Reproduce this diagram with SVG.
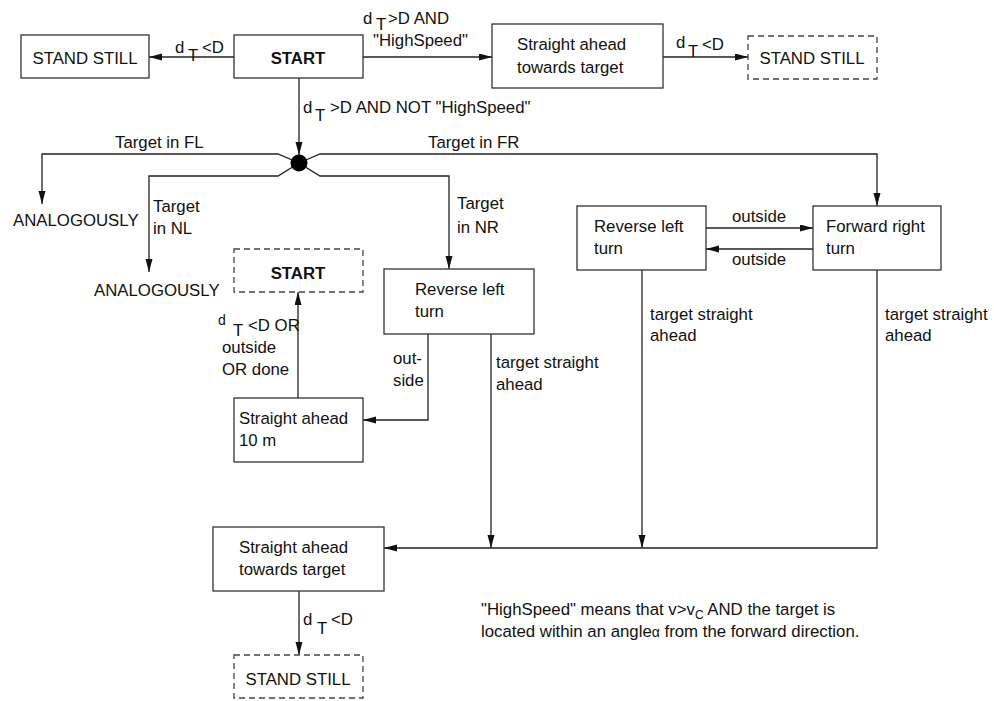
<svg xmlns="http://www.w3.org/2000/svg" width="994" height="701" viewBox="0 0 994 701">
  <style>
    text { font-family: "Liberation Sans", Arial, sans-serif; font-size: 16.8px; fill: #111; }
    .b { font-weight: bold; }
    .box { fill: #fff; stroke: #333; stroke-width: 1.3; }
    .dash { fill: #fff; stroke: #444; stroke-width: 1.3; stroke-dasharray: 6 4; }
    .ln { fill: none; stroke: #222; stroke-width: 1.3; }
    .arr { marker-end: url(#ah); }
  </style>
  <defs>
    <marker id="ah" markerUnits="userSpaceOnUse" markerWidth="14" markerHeight="8" refX="13" refY="3.5" orient="auto">
      <path d="M0,0 L13,3.5 L0,7 z" fill="#111"/>
    </marker>
  </defs>
  <rect width="994" height="701" fill="#fff"/>

  <!-- connectors -->
  <g id="connectors">
    <line class="ln arr" x1="234" y1="57" x2="149" y2="57"/>
    <line class="ln arr" x1="363" y1="57" x2="492" y2="57"/>
    <line class="ln arr" x1="663" y1="57" x2="748" y2="57"/>
    <line class="ln arr" x1="299" y1="78" x2="299" y2="155"/>
    <!-- junction branches -->
    <polyline class="ln arr" points="299,163 278,154 42,154 42,204"/>
    <polyline class="ln arr" points="299,163 278,176 149,176 149,272"/>
    <polyline class="ln arr" points="299,163 320,154 877,154 877,206"/>
    <polyline class="ln arr" points="299,163 320,176 449,176 449,269"/>
    <!-- NR branch -->
    <polyline class="ln arr" points="428,334 428,420 363,420"/>
    <line class="ln arr" x1="298" y1="398" x2="298" y2="292"/>
    <line class="ln arr" x1="491" y1="334" x2="491" y2="548"/>
    <!-- FR branch -->
    <line class="ln arr" x1="706" y1="228" x2="813" y2="228"/>
    <line class="ln arr" x1="813" y1="249" x2="706" y2="249"/>
    <line class="ln arr" x1="642" y1="270" x2="642" y2="548"/>
    <polyline class="ln arr" points="877,270 877,548 384,548"/>
    <line class="ln arr" x1="299" y1="591" x2="299" y2="655"/>
    <circle cx="299" cy="163" r="8.5" fill="#000"/>
  </g>

  <!-- connector labels -->
  <g id="labels">
    <text x="175" y="53">d</text><text x="188" y="61">T</text><text x="202" y="53">&lt;D</text>
    <text x="363" y="24">d</text><text x="376" y="30">T</text><text x="388" y="24">&gt;D AND</text>
    <text x="373" y="46">"HighSpeed"</text>
    <text x="676" y="48">d</text><text x="688" y="57">T</text><text x="702" y="50">&lt;D</text>
    <text x="303" y="113">d</text><text x="315" y="121">T</text><text x="330" y="113">&gt;D AND NOT "HighSpeed"</text>
    <text x="115" y="148">Target in FL</text>
    <text x="428" y="148">Target in FR</text>
    <text x="13" y="226">ANALOGOUSLY</text>
    <text x="153" y="212">Target</text>
    <text x="153" y="234">in NL</text>
    <text x="94" y="296">ANALOGOUSLY</text>
    <text x="457" y="209">Target</text>
    <text x="457" y="233">in NR</text>
    <text x="218" y="325" style="font-size:14px">d</text><text x="233" y="336">T</text><text x="248" y="331">&lt;D OR</text>
    <text x="222" y="353">outside</text>
    <text x="222" y="375">OR done</text>
    <text x="393" y="364">out-</text>
    <text x="393" y="386">side</text>
    <text x="496" y="368">target straight</text>
    <text x="496" y="390">ahead</text>
    <text x="732" y="222">outside</text>
    <text x="732" y="265">outside</text>
    <text x="650" y="320">target straight</text>
    <text x="650" y="341">ahead</text>
    <text x="885" y="320">target straight</text>
    <text x="885" y="341">ahead</text>
    <text x="303" y="625">d</text><text x="317" y="634">T</text><text x="331" y="625">&lt;D</text>
  </g>

  <!-- nodes -->
  <g id="stand-still-left">
    <rect class="box" x="21" y="35" width="128" height="43"/>
    <text x="85" y="64" text-anchor="middle">STAND STILL</text>
  </g>
  <g id="start-top">
    <rect class="box" x="234" y="35" width="129" height="43"/>
    <text class="b" x="298" y="64" text-anchor="middle">START</text>
  </g>
  <g id="straight-top">
    <rect class="box" x="492" y="24" width="171" height="64"/>
    <text x="517" y="50">Straight ahead</text>
    <text x="517" y="73">towards target</text>
  </g>
  <g id="stand-still-right">
    <rect class="dash" x="748" y="36" width="129" height="43"/>
    <text x="812" y="64" text-anchor="middle">STAND STILL</text>
  </g>
  <g id="start-return">
    <rect class="dash" x="234" y="249" width="129" height="43"/>
    <text class="b" x="298" y="279" text-anchor="middle">START</text>
  </g>
  <g id="reverse-left-nr">
    <rect class="box" x="384" y="269" width="150" height="65"/>
    <text x="415" y="295">Reverse left</text>
    <text x="415" y="317">turn</text>
  </g>
  <g id="straight-10m">
    <rect class="box" x="234" y="398" width="129" height="64"/>
    <text x="239" y="424">Straight ahead</text>
    <text x="239" y="446">10 m</text>
  </g>
  <g id="reverse-left-fr">
    <rect class="box" x="577" y="206" width="129" height="64"/>
    <text x="594" y="232">Reverse left</text>
    <text x="594" y="254">turn</text>
  </g>
  <g id="forward-right">
    <rect class="box" x="813" y="206" width="128" height="64"/>
    <text x="826" y="232">Forward right</text>
    <text x="826" y="254">turn</text>
  </g>
  <g id="straight-bottom">
    <rect class="box" x="213" y="527" width="171" height="64"/>
    <text x="239" y="553">Straight ahead</text>
    <text x="239" y="575">towards target</text>
  </g>
  <g id="stand-still-bottom">
    <rect class="dash" x="234" y="655" width="129" height="43"/>
    <text x="298" y="685" text-anchor="middle">STAND STILL</text>
  </g>

  <!-- note -->
  <g id="note">
    <text x="481" y="615">"HighSpeed" means that v&gt;v<tspan style="font-size:12px" dy="4">C</tspan><tspan dy="-4"> AND the target is</tspan></text>
    <text x="481" y="637">located within an angle<tspan style="font-size:14px">α</tspan> from the forward direction.</text>
  </g>
</svg>
